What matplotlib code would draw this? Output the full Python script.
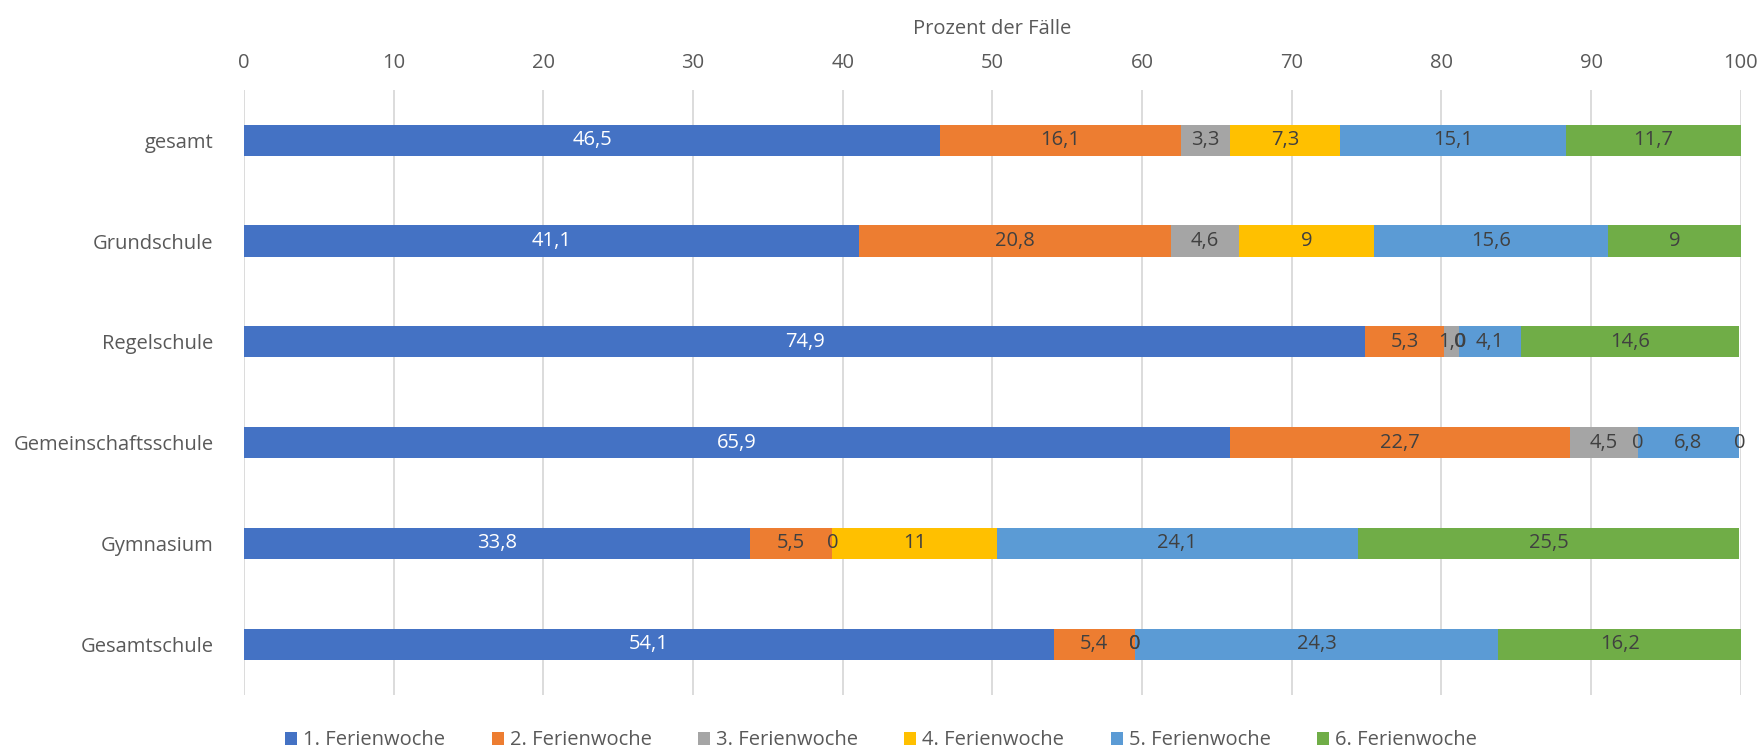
import numpy as np
import matplotlib.pyplot as plt

plt.rcParams['font.family'] = ['Open Sans', 'DejaVu Sans']

schools = ["gesamt", "Grundschule", "Regelschule", "Gemeinschaftsschule",
           "Gymnasium", "Gesamtschule"]
weeks = ["1. Ferienwoche", "2. Ferienwoche", "3. Ferienwoche",
         "4. Ferienwoche", "5. Ferienwoche", "6. Ferienwoche"]

# labels as printed in the chart (German decimal comma), one list per week
week1 = ["46,5", "41,1", "74,9", "65,9", "33,8", "54,1"]
week2 = ["16,1", "20,8", "5,3", "22,7", "5,5", "5,4"]
week3 = ["3,3", "4,6", "1,0", "4,5", "0", "0"]
week4 = ["7,3", "9", "0", "0", "11", "0"]
week5 = ["15,1", "15,6", "4,1", "6,8", "24,1", "24,3"]
week6 = ["11,7", "9", "14,6", "0", "25,5", "16,2"]

colors = ["#4472C4", "#ED7D31", "#A5A5A5", "#FFC000", "#5B9BD5", "#70AD47"]

fig = plt.figure(figsize=(17.62, 7.55), dpi=100)
ax = fig.add_axes([0.1385, 0.080, 0.8495, 0.801])

y = np.arange(len(schools))
left = np.zeros(len(schools))
for i, labels in enumerate([week1, week2, week3, week4, week5, week6]):
    vals = np.array([float(s.replace(",", ".")) for s in labels])
    ax.barh(y, vals, left=left, height=0.31, color=colors[i], label=weeks[i],
            zorder=2)
    tc = "white" if i == 0 else "#404040"
    for yy, l, v, s in zip(y, left, vals, labels):
        ax.text(l + v / 2, yy, s, ha="center", va="center", fontsize=14.5,
                color=tc, zorder=3)
    left += vals

ax.set_xlim(0, 100)
ax.set_ylim(len(schools) - 0.5, -0.5)
ax.set_xticks(np.arange(0, 101, 10))
ax.xaxis.tick_top()
ax.xaxis.set_label_position("top")
ax.set_xlabel("Prozent der Fälle", fontsize=14.5, color="#595959", labelpad=14)
ax.set_yticks(y)
ax.set_yticklabels(schools)
ax.tick_params(axis="both", length=0, labelsize=14.5, labelcolor="#595959")
ax.tick_params(axis="y", pad=22)
ax.tick_params(axis="x", pad=12)
ax.grid(axis="x", color="#D9D9D9", linewidth=1.3, zorder=0)
for sp in ax.spines.values():
    sp.set_visible(False)

fig.legend(loc="lower center", bbox_to_anchor=(0.5, -0.018), ncol=6,
           frameon=False, fontsize=14.5, handlelength=0.6, handleheight=0.6,
           columnspacing=2.3, handletextpad=0.3, labelcolor="#595959")

fig.savefig("out.png", dpi=100)
